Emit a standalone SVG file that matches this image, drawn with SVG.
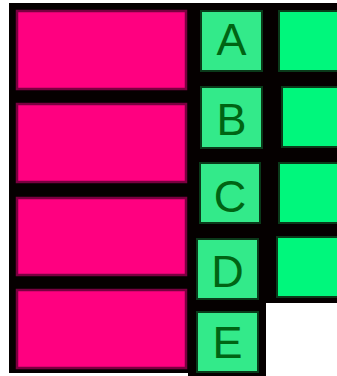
<svg xmlns="http://www.w3.org/2000/svg" width="337" height="376" viewBox="0 0 337 376">
<style>
.pink{fill:#FF0080;stroke:#7a0040;stroke-width:2.5}
.lbl{fill:#33EA8A;stroke:#0a3a1a;stroke-width:2}
.cell{fill:#00F77C;stroke:#0a3a1a;stroke-width:2}
.t{font-family:"Liberation Sans",Arial,sans-serif;font-size:45px;fill:#006414;text-anchor:middle}
</style>
<rect width="337" height="376" fill="#ffffff"/>
<path d="M9,3 H337 V303 H266 V376 H188 V373 H9 Z" fill="#050000"/>
<g id="pink1"><rect class="pink" x="17" y="11" width="169" height="78"/></g>
<g id="pink2"><rect class="pink" x="17" y="104" width="169" height="78"/></g>
<g id="pink3"><rect class="pink" x="17" y="198" width="169" height="77"/></g>
<g id="pink4"><rect class="pink" x="17" y="290" width="169" height="78"/></g>
<g id="A"><rect class="lbl" x="201" y="11" width="61" height="60"/><text class="t" x="231.5" y="55">A</text></g>
<g id="B"><rect class="lbl" x="201" y="87" width="61" height="61"/><text class="t" x="231.5" y="135">B</text></g>
<g id="C"><rect class="lbl" x="200" y="163" width="60" height="60"/><text class="t" x="230" y="212">C</text></g>
<g id="D"><rect class="lbl" x="197" y="239" width="61" height="60"/><text class="t" x="227.5" y="287">D</text></g>
<g id="E"><rect class="lbl" x="197" y="312" width="61" height="60"/><text class="t" x="227.5" y="358">E</text></g>
<g id="cell1"><rect class="cell" x="279" y="11" width="60" height="60"/></g>
<g id="cell2"><rect class="cell" x="282" y="87" width="57" height="60"/></g>
<g id="cell3"><rect class="cell" x="279" y="163" width="60" height="60"/></g>
<g id="cell4"><rect class="cell" x="277" y="237" width="62" height="60"/></g>
<g id="connectors"></g>
</svg>
